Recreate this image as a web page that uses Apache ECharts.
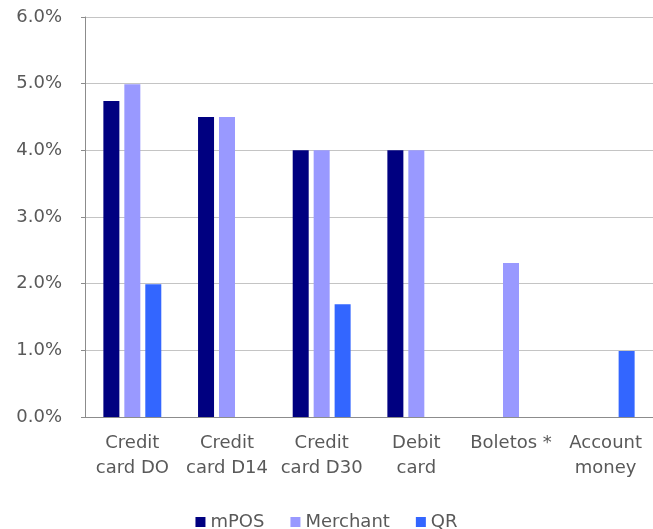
<!DOCTYPE html>
<html>
<head>
<meta charset="utf-8">
<script src="https://cdn.jsdelivr.net/npm/echarts@6/dist/echarts.min.js"></script>
<style>
  html, body { margin: 0; padding: 0; background: #fff; }
  #chart { width: 653px; height: 529px; }
</style>
</head>
<body>
<div id="chart"></div>
<script>
// Fee rates by payment method (percent)
const categories = ['Credit\ncard DO', 'Credit\ncard D14', 'Credit\ncard D30', 'Debit\ncard', 'Boletos *', 'Account\nmoney'];
const mposRates = [4.74, 4.5, 4.0, 4.0, null, null];
const merchantRates = [4.99, 4.5, 4.0, 4.0, 2.31, null];
const qrRates = [1.99, null, 1.69, null, null, 0.99];
const yTicks = { min: 0, max: 6, interval: 1 };

const textColor = '#595959';
const fontFamily = '"DejaVu Sans", Verdana, sans-serif';

const chart = echarts.init(document.getElementById('chart'), null, { renderer: 'canvas' });

function barSeries(name, data, color) {
  return {
    name: name,
    type: 'bar',
    data: data,
    barWidth: 16,
    barGap: '31%',
    itemStyle: { color: color },
    emphasis: { disabled: true }
  };
}

chart.setOption({
  animation: false,
  grid: { left: 85, right: 0, top: 17, bottom: 112, containLabel: false },
  legend: {
    top: 508,
    left: 'center',
    icon: 'rect',
    itemWidth: 10,
    itemHeight: 10,
    itemGap: 26,
    textStyle: { color: textColor, fontSize: 18, fontFamily: fontFamily },
    data: ['mPOS', 'Merchant', 'QR']
  },
  xAxis: {
    type: 'category',
    data: categories,
    axisLine: { lineStyle: { color: '#8c8c8c', width: 1 } },
    axisTick: { show: false },
    axisLabel: {
      color: textColor,
      fontSize: 18,
      fontFamily: fontFamily,
      lineHeight: 25,
      margin: 14,
      interval: 0
    }
  },
  yAxis: {
    type: 'value',
    min: yTicks.min,
    max: yTicks.max,
    interval: yTicks.interval,
    axisLine: { show: true, lineStyle: { color: '#8c8c8c', width: 1 } },
    axisTick: { show: true, length: 4, lineStyle: { color: '#8c8c8c' } },
    splitLine: { lineStyle: { color: '#c4c4c4', width: 1 } },
    axisLabel: {
      color: textColor,
      fontSize: 18,
      fontFamily: fontFamily,
      margin: 23,
      formatter: v => v.toFixed(1) + '%'
    }
  },
  series: [
    barSeries('mPOS', mposRates, '#000080'),
    barSeries('Merchant', merchantRates, '#9999ff'),
    barSeries('QR', qrRates, '#3366ff')
  ]
});
</script>
</body>
</html>
